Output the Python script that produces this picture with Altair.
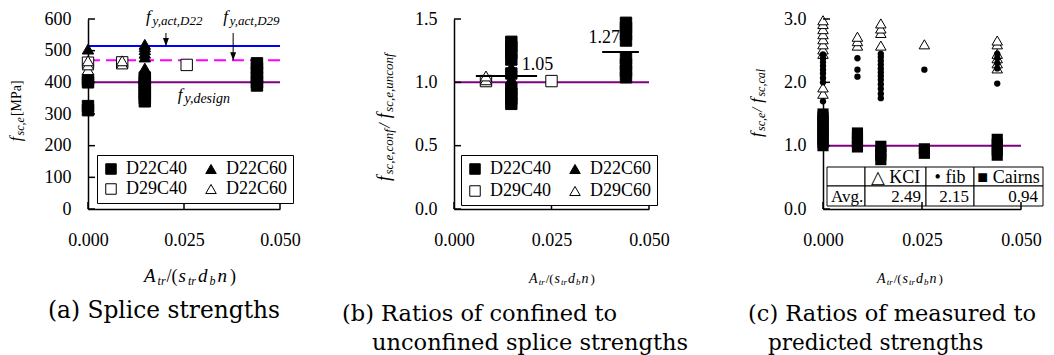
import altair as alt
import pandas as pd

FONT = "Liberation Serif"
CAP_FONT = "DejaVu Serif"

# ---------------- axis ticks ----------------
X_TICKS = [0.0, 0.025, 0.05]
A_Y_TICKS = [0, 100, 200, 300, 400, 500, 600]
B_Y_TICKS = [0.0, 0.5, 1.0, 1.5]
C_Y_TICKS = [0.0, 1.0, 2.0, 3.0]

# ---------------- panel (a): splice strengths [MPa] ----------------
A_SERIES = ["D22C40", "D22C60", "D29C40", "D29C60"]
A_LEGEND_LABELS = ["D22C40", "D22C60", "D29C40", "D22C60"]
A_D22C40_X = [0.0, 0.0148, 0.0440]
A_D22C40_Y = [[312, 325, 400, 408],
              [340, 350, 360, 370, 380, 390, 400, 410, 415],
              [390, 400, 415, 430, 445, 460]]
A_D22C60_X = [0.0, 0.0148]
A_D22C60_Y = [[505], [445, 480, 492, 503, 512, 520]]
A_D29C40_X = [0.0, 0.0089, 0.0257]
A_D29C40_Y = [[462], [463], [455]]
A_D29C60_X = [0.0, 0.0089]
A_D29C60_Y = [[440, 455, 468], [458, 468]]
A_REF_VALUES = [515, 470, 400]          # fy,act,D22 / fy,act,D29 / fy,design
A_ARROW_X = [0.0203, 0.0378]
A_ARROW_FROM = [556, 556]
A_ARROW_TO = [515, 470]
A_ANNOT_SUB = ["y,act,D22", "y,act,D29", "y,design"]
A_ANNOT_X = [0.0151, 0.0352, 0.0234]
A_ANNOT_Y = [590, 590, 345]

# ---------------- panel (b): confined / unconfined ----------------
B_SERIES = ["D22C40", "D22C60", "D29C40", "D29C60"]
B_LEGEND_LABELS = ["D22C40", "D22C60", "D29C40", "D29C60"]
B_D22C40_X = [0.0147, 0.0441]
B_D22C40_Y = [[0.83, 0.87, 0.91, 0.95, 1.07, 1.18, 1.23, 1.28, 1.32],
              [1.04, 1.09, 1.14, 1.19, 1.33, 1.38, 1.43, 1.47]]
B_D22C60_X = [0.0147]
B_D22C60_Y = [[0.99, 1.03, 1.08, 1.12]]
B_D29C40_X = [0.0082, 0.0250]
B_D29C40_Y = [[1.01], [1.01]]
B_D29C60_X = [0.0082]
B_D29C60_Y = [[1.02, 1.05]]
B_REF_VALUE = 1.0
B_MEAN_X1 = [0.0056, 0.0380]
B_MEAN_X2 = [0.0213, 0.0474]
B_MEAN_Y = [1.05, 1.24]
B_MEAN_TEXT = ["1.05", "1.27"]
B_MEAN_TEXT_X = [0.0174, 0.0345]
B_MEAN_TEXT_Y = [1.14, 1.35]

# ---------------- panel (c): measured / predicted ----------------
C_KCI_X = [0.0, 0.0087, 0.0146, 0.0256, 0.0440]
C_KCI_Y = [[1.82, 1.92, 2.45, 2.52, 2.60, 2.68, 2.76, 2.84, 2.92, 2.98],
           [2.58, 2.65, 2.72],
           [2.58, 2.78, 2.85, 2.93],
           [2.60],
           [2.22, 2.30, 2.38, 2.45, 2.60, 2.66]]
C_FIB_X = [0.0, 0.0087, 0.0146, 0.0256, 0.0440]
C_FIB_Y = [[1.70, 2.00, 2.07, 2.14, 2.20, 2.26, 2.32, 2.38, 2.44],
           [2.09, 2.20, 2.38],
           [1.75, 1.82, 1.90, 1.97, 2.04, 2.10, 2.16, 2.22, 2.28, 2.34, 2.40, 2.45],
           [2.20],
           [1.98, 2.22, 2.30, 2.38, 2.45]]
C_CAIRNS_X = [0.0, 0.0087, 0.0146, 0.0256, 0.0440]
C_CAIRNS_Y = [[1.00, 1.05, 1.10, 1.15, 1.20, 1.25, 1.30, 1.35, 1.40, 1.45, 1.50],
              [0.98, 1.05, 1.12, 1.20],
              [0.78, 0.85, 0.92, 0.99],
              [0.88, 0.95],
              [0.85, 0.93, 1.02, 1.10]]
C_REF_VALUE = 1.0
C_TABLE_HEAD = ["", "\u25b3 KCI", "\u2022 fib", "\u25a0 Cairns"]
C_TABLE_ROW = ["Avg.", "2.49", "2.15", "0.94"]

# ---------------- layout / style (not data) ----------------
WA, WB, WC, H = 192, 195, 198, 190
TICK = 7
C_COL_EDGES = [4, 42, 103, 151, 220]
C_ROW_EDGES = [148, 167, 187]
NB = "\u00a0"

TR = {' ': 250, '(': 333, ')': 333, ',': 250, '.': 250, '/': 278, '[': 333, ']': 333,
      'A': 722, 'C': 667, 'D': 722, 'I': 333, 'K': 722, 'M': 889, 'P': 556,
      'a': 444, 'b': 500, 'c': 444, 'd': 500, 'e': 444, 'f': 333, 'g': 500, 'i': 278,
      'l': 278, 'n': 500, 'o': 500, 'r': 333, 's': 389, 't': 278, 'u': 500, 'y': 500}
TI = {' ': 250, ',': 250, '/': 278, '(': 333, ')': 333, 'A': 611, 'D': 722,
      'a': 500, 'b': 500, 'c': 444, 'd': 500, 'e': 444, 'f': 300, 'g': 500, 'i': 278,
      'l': 278, 'n': 500, 'o': 500, 'r': 389, 's': 389, 't': 278, 'u': 500, 'y': 444}


def tw(text, size, italic):
    tab = TI if italic else TR
    return sum(tab.get(ch, 500) for ch in text) * size / 1000.0


def rich(segs, x_enc, y_enc, angle=0, center=False, data=None):
    """segs: (text, size, italic, baseline shift, gap after)"""
    total = sum(tw(t, s, i) + g for t, s, i, _, g in segs)
    cur = -total / 2.0 if center else 0.0
    src = data if data is not None else pd.DataFrame({"k": [0]})
    out = []
    for t, s, i, sh, g in segs:
        out.append(alt.Chart(src).mark_text(
            text=t, font=FONT, fontSize=s, fontStyle="italic" if i else "normal",
            align="left", baseline="alphabetic", dx=cur, dy=sh, angle=angle, color="black"
        ).encode(x=x_enc, y=y_enc))
        cur += tw(t, s, i) + g
    return out


def rows(series, xs, ys):
    out = []
    for x, yl in zip(xs, ys):
        for y in yl:
            out.append({"s": series, "x": x, "y": y})
    return out


XS = alt.Scale(domain=[0, 0.05], nice=False, zero=False)
AX = alt.Axis(values=X_TICKS, format=".3f", title=None, labelPadding=22, labelFlush=False)


def yaxis(vals, fmt):
    return alt.Axis(values=vals, format=fmt, title=None, labelPadding=17, labelFlush=False)


def inside_ticks(yvals, ys, ya, h):
    yt = alt.Chart(pd.DataFrame({"v": yvals})).mark_rule(color="black", strokeWidth=1.5).encode(
        y=alt.Y("v:Q", scale=ys, axis=ya), x=alt.value(0), x2=alt.value(TICK))
    xt = alt.Chart(pd.DataFrame({"v": X_TICKS})).mark_rule(color="black", strokeWidth=1.5).encode(
        x=alt.X("v:Q", scale=XS, axis=AX), y=alt.value(h), y2=alt.value(h - TICK))
    return [yt, xt]


def caption(lines):
    out = []
    for txt, x, y, size in lines:
        out.append(alt.Chart(pd.DataFrame({"k": [0]})).mark_text(
            text=txt, font=CAP_FONT, fontSize=size, align="left", baseline="alphabetic",
            color="black"
        ).encode(x=alt.value(x), y=alt.value(y)))
    return out


def xtitle(cx, y, big):
    if big:
        m, sb, r = 19, 12, 18
        segs = [("A", m, True, 0, 2), ("tr", sb, True, 3, 1), ("/(", r, False, 0, 1),
                ("s", m, True, 0, 2), ("tr", sb, True, 3, 2), ("d", m, True, 0, 2),
                ("b", sb, True, 3, 2), ("n", m, True, 0, 3), (")", r, False, 0, 0)]
    else:
        m, sb, r = 14, 9, 13
        segs = [("A", m, True, 0, 1), ("tr", sb, True, 2, 1), ("/(", r, False, 0, 1),
                ("s", m, True, 0, 1), ("tr", sb, True, 2, 1), ("d", m, True, 0, 1),
                ("b", sb, True, 2, 1), ("n", m, True, 0, 2), (")", r, False, 0, 0)]
    return rich(segs, alt.value(cx), alt.value(y), center=True)


def legend(labels, series, lx, ly, rowpad):
    expr = " : ".join(
        [f"datum.label == '{s}' ? '{l}'" for s, l in zip(series, labels)] + ["datum.label"])
    return alt.Legend(orient="none", legendX=lx, legendY=ly, columns=2, direction="horizontal",
                      columnPadding=14, rowPadding=rowpad, padding=5, strokeColor="black",
                      fillColor="white", title=None, labelFont=FONT, labelFontSize=18,
                      labelColor="black", symbolSize=110, symbolStrokeColor="black",
                      symbolStrokeWidth=1, labelOffset=6, labelExpr=expr)


def series_points(df, series, ys, ya, leg):
    return alt.Chart(df).mark_point(filled=True, size=130, strokeWidth=1, opacity=1).encode(
        x=alt.X("x:Q", scale=XS, axis=AX),
        y=alt.Y("y:Q", scale=ys, axis=ya),
        shape=alt.Shape("s:N", scale=alt.Scale(domain=series,
                        range=["square", "triangle-up", "square", "triangle-up"]), legend=leg),
        fill=alt.Fill("s:N", scale=alt.Scale(domain=series,
                      range=["black", "black", "white", "white"]), legend=leg),
        stroke=alt.Stroke("s:N", scale=alt.Scale(domain=series,
                          range=["black", "black", "black", "black"]), legend=leg),
    )


# ================= panel (a) =================
AYS = alt.Scale(domain=[0, 600], nice=False)
AYA = yaxis(A_Y_TICKS, "d")
a_df = pd.DataFrame(rows("D22C40", A_D22C40_X, A_D22C40_Y) + rows("D22C60", A_D22C60_X, A_D22C60_Y)
                    + rows("D29C40", A_D29C40_X, A_D29C40_Y) + rows("D29C60", A_D29C60_X, A_D29C60_Y))
a_ref = pd.DataFrame({"y": A_REF_VALUES, "k": ["D22", "D29", "design"]})
a_lines = [
    alt.Chart(a_ref[a_ref.k == "D22"]).mark_rule(color="#0000ff", strokeWidth=2).encode(
        y=alt.Y("y:Q", scale=AYS, axis=AYA)),
    alt.Chart(a_ref[a_ref.k == "D29"]).mark_rule(color="#ff00ff", strokeWidth=2,
                                                 strokeDash=[12, 6]).encode(
        y=alt.Y("y:Q", scale=AYS, axis=AYA)),
    alt.Chart(a_ref[a_ref.k == "design"]).mark_rule(color="#800080", strokeWidth=2).encode(
        y=alt.Y("y:Q", scale=AYS, axis=AYA)),
]
arr_df = pd.DataFrame({"x": A_ARROW_X, "y": A_ARROW_FROM, "y2": A_ARROW_TO})
a_arrows = [
    alt.Chart(arr_df).mark_rule(color="black", strokeWidth=1).encode(
        x=alt.X("x:Q", scale=XS, axis=AX), y=alt.Y("y:Q", scale=AYS, axis=AYA), y2="y2:Q"),
    alt.Chart(arr_df).mark_point(shape="M-0.75,-2L0.75,-2L0,0Z", filled=True, size=64,
                                 color="black", opacity=1).encode(
        x=alt.X("x:Q", scale=XS, axis=AX), y=alt.Y("y2:Q", scale=AYS, axis=AYA)),
]
a_annot = []
for sub, ax_, ay_ in zip(A_ANNOT_SUB, A_ANNOT_X, A_ANNOT_Y):
    d = pd.DataFrame({"x": [ax_], "y": [ay_]})
    sz = 14 if sub == "y,design" else 13
    a_annot += rich([("f", 17, True, 0, 1.5), (sub, sz, True, 3, 0)],
                    alt.X("x:Q", scale=XS, axis=AX), alt.Y("y:Q", scale=AYS, axis=AYA), data=d)
a_pts = series_points(a_df, A_SERIES, AYS, AYA, legend(A_LEGEND_LABELS, A_SERIES, 9, 136, 2))
a_ytitle = rich([("f", 16, True, 0, 1), ("sc,e", 12, True, 3, 1), (" [MPa]", 14, False, 0, 0)],
                alt.value(-67), alt.value(90), angle=270, center=True)
panel_a = alt.layer(
    *a_lines, *a_arrows, a_pts, *a_annot, *inside_ticks(A_Y_TICKS, AYS, AYA, H),
    *a_ytitle, *xtitle(102, 263, True),
    *caption([("(a)" + NB + "Splice" + NB + "strengths", -40, 299, 23.3)]),
).properties(width=WA, height=H)

# ================= panel (b) =================
BYS = alt.Scale(domain=[0, 1.5], nice=False)
BYA = yaxis(B_Y_TICKS, ".1f")
b_df = pd.DataFrame(rows("D22C40", B_D22C40_X, B_D22C40_Y) + rows("D22C60", B_D22C60_X, B_D22C60_Y)
                    + rows("D29C40", B_D29C40_X, B_D29C40_Y) + rows("D29C60", B_D29C60_X, B_D29C60_Y))
b_ref = alt.Chart(pd.DataFrame({"y": [B_REF_VALUE]})).mark_rule(color="#800080", strokeWidth=2).encode(
    y=alt.Y("y:Q", scale=BYS, axis=BYA))
mean_df = pd.DataFrame({"x": B_MEAN_X1, "x2": B_MEAN_X2, "y": B_MEAN_Y,
                        "t": B_MEAN_TEXT, "tx": B_MEAN_TEXT_X, "ty": B_MEAN_TEXT_Y})
b_mean = alt.Chart(mean_df).mark_rule(color="black", strokeWidth=2).encode(
    x=alt.X("x:Q", scale=XS, axis=AX), x2="x2:Q", y=alt.Y("y:Q", scale=BYS, axis=BYA))
b_mean_txt = alt.Chart(mean_df).mark_text(font=FONT, fontSize=18, align="left", baseline="middle",
                                           color="black").encode(
    x=alt.X("tx:Q", scale=XS, axis=AX), y=alt.Y("ty:Q", scale=BYS, axis=BYA), text="t:N")
b_pts = series_points(b_df, B_SERIES, BYS, BYA, legend(B_LEGEND_LABELS, B_SERIES, 7, 136, 4))
b_ytitle = rich([("f", 18, True, 0, 1), ("sc,e,conf", 13, True, 3, 1), (" /", 16, True, 0, 1),
                 ("f", 18, True, 0, 1), ("sc,e,unconf", 13, True, 3, 0)],
                alt.value(-64), alt.value(98), angle=270, center=True)
panel_b = alt.layer(
    b_ref, b_pts, b_mean, b_mean_txt, *inside_ticks(B_Y_TICKS, BYS, BYA, H),
    *b_ytitle, *xtitle(108, 264, False),
    *caption([("(b)" + NB + "Ratios of confined to", -112, 302, 22.5),
              ("unconfined splice strengths", -82, 331, 22.5)]),
).properties(width=WB, height=H)

# ================= panel (c) =================
CYS = alt.Scale(domain=[0, 3], nice=False)
CYA = yaxis(C_Y_TICKS, ".1f")
c_ref = alt.Chart(pd.DataFrame({"y": [C_REF_VALUE]})).mark_rule(color="#800080", strokeWidth=2).encode(
    y=alt.Y("y:Q", scale=CYS, axis=CYA))
c_cairns = alt.Chart(pd.DataFrame(rows("Cairns", C_CAIRNS_X, C_CAIRNS_Y))).mark_point(
    shape="square", filled=True, color="black", size=125, opacity=1).encode(
    x=alt.X("x:Q", scale=XS, axis=AX), y=alt.Y("y:Q", scale=CYS, axis=CYA))
c_kci = alt.Chart(pd.DataFrame(rows("KCI", C_KCI_X, C_KCI_Y))).mark_point(
    shape="triangle-up", filled=True, fill="white", stroke="black", strokeWidth=1, size=110,
    opacity=1).encode(
    x=alt.X("x:Q", scale=XS, axis=AX), y=alt.Y("y:Q", scale=CYS, axis=CYA))
c_fib = alt.Chart(pd.DataFrame(rows("fib", C_FIB_X, C_FIB_Y))).mark_point(
    shape="circle", filled=True, color="black", size=40, opacity=1).encode(
    x=alt.X("x:Q", scale=XS, axis=AX), y=alt.Y("y:Q", scale=CYS, axis=CYA))
cells = []
for r in range(2):
    for c in range(4):
        cells.append({"x1": C_COL_EDGES[c], "x2": C_COL_EDGES[c + 1],
                      "y1": C_ROW_EDGES[r], "y2": C_ROW_EDGES[r + 1]})
c_table = []
for cell in cells:
    c_table.append(alt.Chart(pd.DataFrame({"k": [0]})).mark_rect(
        fill="white", stroke="black", strokeWidth=1).encode(
        x=alt.value(cell["x1"]), x2=alt.value(cell["x2"]),
        y=alt.value(cell["y1"]), y2=alt.value(cell["y2"])))
for c, txt in enumerate(C_TABLE_HEAD):
    if txt:
        c_table.append(alt.Chart(pd.DataFrame({"k": [0]})).mark_text(
            text=txt, font=FONT, fontSize=18, align="center", baseline="middle",
            color="black").encode(
            x=alt.value((C_COL_EDGES[c] + C_COL_EDGES[c + 1]) / 2),
            y=alt.value((C_ROW_EDGES[0] + C_ROW_EDGES[1]) / 2 + 1)))
for c, txt in enumerate(C_TABLE_ROW):
    left = c == 0
    c_table.append(alt.Chart(pd.DataFrame({"k": [0]})).mark_text(
        text=txt, font=FONT, fontSize=17, align="left" if left else "right", baseline="middle",
        color="black").encode(
        x=alt.value(C_COL_EDGES[c] + 4 if left else C_COL_EDGES[c + 1] - 5),
        y=alt.value((C_ROW_EDGES[1] + C_ROW_EDGES[2]) / 2 + 1)))
c_ytitle = rich([("f", 17, True, 0, 1), ("sc,e", 12, True, 3, 1), (" /", 15, True, 0, 1),
                 ("f", 17, True, 0, 1), ("sc,cal", 12, True, 3, 0)],
                alt.value(-61), alt.value(84), angle=270, center=True)
panel_c = alt.layer(
    c_ref, c_cairns, c_kci, c_fib, *c_table, *inside_ticks(C_Y_TICKS, CYS, CYA, H),
    *c_ytitle, *xtitle(87, 264, False),
    *caption([("(c)" + NB + "Ratios of measured to", -75, 302, 22.5),
              ("predicted strengths", -55, 331, 21.5)]),
).properties(width=WC, height=H)

chart = alt.hconcat(panel_a, panel_b, panel_c, spacing=174, bounds="flush").resolve_scale(
    shape="independent", fill="independent", stroke="independent"
).properties(
    padding={"left": 0, "top": 0, "right": 0, "bottom": 0}
).configure_view(stroke=None).configure_axis(
    grid=False, ticks=False, domainColor="black", domainWidth=1.5,
    labelFont=FONT, labelFontSize=18, labelColor="black"
)

chart.save("out.html", embed_options={"renderer": "svg", "actions": False})
